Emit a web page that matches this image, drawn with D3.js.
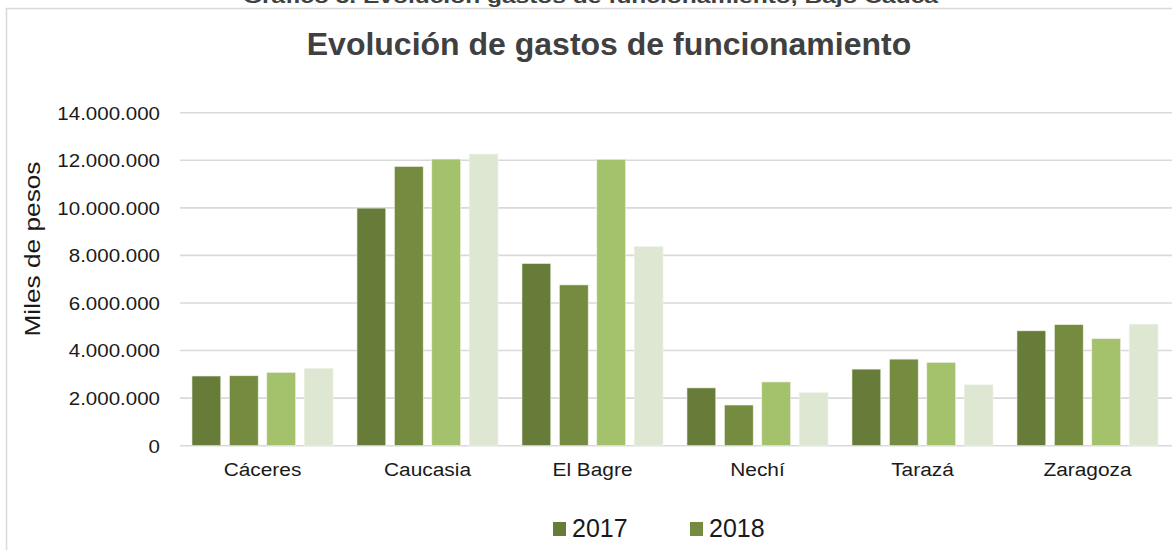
<!DOCTYPE html>
<html>
<head>
<meta charset="utf-8">
<script src="https://cdn.jsdelivr.net/npm/d3@7"></script>
<style>
  html, body { margin: 0; padding: 0; background: #fff; }
  svg { display: block; font-family: "Liberation Sans", Arial, sans-serif; }
</style>
</head>
<body>
<svg id="chart" width="1172" height="550"></svg>
<script>
// ---- data ----
const categories = ["Cáceres", "Caucasia", "El Bagre", "Nechí", "Tarazá", "Zaragoza"];
const seriesNames = ["2017", "2018", "2019", "2020"];
const values2017 = [2930000, 9990000, 7660000, 2430000, 3220000, 4830000];
const values2018 = [2940000, 11740000, 6760000, 1710000, 3640000, 5090000];
const values2019 = [3080000, 12050000, 12040000, 2680000, 3500000, 4500000];
const values2020 = [3250000, 12260000, 8370000, 2230000, 2560000, 5110000];
const yTicks = [0, 2000000, 4000000, 6000000, 8000000, 10000000, 12000000, 14000000];
const legendShown = ["2017", "2018"];
const colors = ["#687C3A", "#758B40", "#A4C16B", "#DEE7D2"];

const seriesValues = [values2017, values2018, values2019, values2020];

const svg = d3.select("#chart");

// outer frame (cropped on right and bottom)
svg.append("rect")
  .attr("x", 6.5).attr("y", 8.5)
  .attr("width", 1200).attr("height", 600)
  .attr("fill", "none").attr("stroke", "#d9d9d9").attr("stroke-width", 1.5);

// cropped document caption above the frame
svg.append("text")
  .attr("x", 243).attr("y", 3)
  .attr("textLength", 695).attr("lengthAdjust", "spacingAndGlyphs")
  .attr("font-size", 19).attr("font-weight", "bold").attr("fill", "#404040")
  .text("Gráfico 3. Evolución gastos de funcionamiento, Bajo Cauca");

// chart title
svg.append("text")
  .attr("x", 609).attr("y", 55)
  .attr("text-anchor", "middle")
  .attr("font-size", 32).attr("font-weight", "bold").attr("fill", "#404040")
  .text("Evolución de gastos de funcionamiento");

// scales
const x = d3.scaleBand().domain(categories).range([180, 1170]).padding(0);
const xs = d3.scaleBand().domain(seriesNames).range([0, x.bandwidth()])
  .paddingInner(0.23).paddingOuter(0.32);
const y = d3.scaleLinear().domain([0, 14000000]).range([445.7, 112.7]);

const locale = d3.formatLocale({ decimal: ",", thousands: ".", grouping: [3], currency: ["$", ""] });
const fmt = locale.format(",d");

// gridlines
svg.append("g")
  .selectAll("line")
  .data(yTicks)
  .join("line")
  .attr("x1", 180).attr("x2", 1172)
  .attr("y1", d => y(d)).attr("y2", d => y(d))
  .attr("stroke", "#d9d9d9").attr("stroke-width", 1.6);

// y axis labels
const yAxis = svg.append("g")
  .attr("transform", "translate(160,0)")
  .call(d3.axisLeft(y).tickValues(yTicks).tickFormat(fmt).tickSize(0).tickPadding(0));
yAxis.select(".domain").remove();
yAxis.selectAll("text")
  .attr("x", 0)
  .attr("dy", "0.35em")
  .attr("transform", "scale(1.14,1)")
  .attr("font-size", 18)
  .attr("font-family", "'Liberation Sans', Arial, sans-serif")
  .attr("fill", "#1a1a1a");

// bars
const groups = svg.append("g")
  .selectAll("g")
  .data(categories)
  .join("g")
  .attr("transform", d => `translate(${x(d)},0)`);

groups.selectAll("rect")
  .data((c, ci) => seriesNames.map((s, si) => ({ s, si, v: seriesValues[si][ci] })))
  .join("rect")
  .attr("x", d => xs(d.s))
  .attr("width", xs.bandwidth())
  .attr("y", d => y(d.v))
  .attr("height", d => y(0) - y(d.v))
  .attr("fill", d => colors[d.si])
  .attr("stroke", "#eef2e6").attr("stroke-width", 0.6);

// x axis labels
const xAxis = svg.append("g")
  .attr("transform", "translate(0,476)")
  .call(d3.axisBottom(x).tickSize(0).tickPadding(0));
xAxis.select(".domain").remove();
xAxis.selectAll(".tick").each(function(d) {
  const t = d3.select(this).select("text");
  t.attr("y", 0).attr("dy", 0)
   .attr("transform", "scale(1.16,1)")
   .attr("font-size", 18)
   .attr("font-family", "'Liberation Sans', Arial, sans-serif")
   .attr("fill", "#1a1a1a");
});

// y axis title
svg.append("text")
  .attr("transform", "translate(40,249) rotate(-90)")
  .attr("text-anchor", "middle")
  .attr("textLength", 175).attr("lengthAdjust", "spacingAndGlyphs")
  .attr("font-size", 22).attr("fill", "#1a1a1a")
  .text("Miles de pesos");

// legend
const legendX = d3.scalePoint().domain(legendShown).range([553, 690]);
const leg = svg.append("g")
  .selectAll("g")
  .data(legendShown)
  .join("g")
  .attr("transform", d => `translate(${legendX(d)},0)`);
leg.append("rect")
  .attr("x", 0).attr("y", 522).attr("width", 13).attr("height", 14)
  .attr("fill", d => colors[seriesNames.indexOf(d)]);
leg.append("text")
  .attr("x", 19).attr("y", 537)
  .attr("font-size", 25).attr("fill", "#1a1a1a")
  .text(d => d);
</script>
</body>
</html>
